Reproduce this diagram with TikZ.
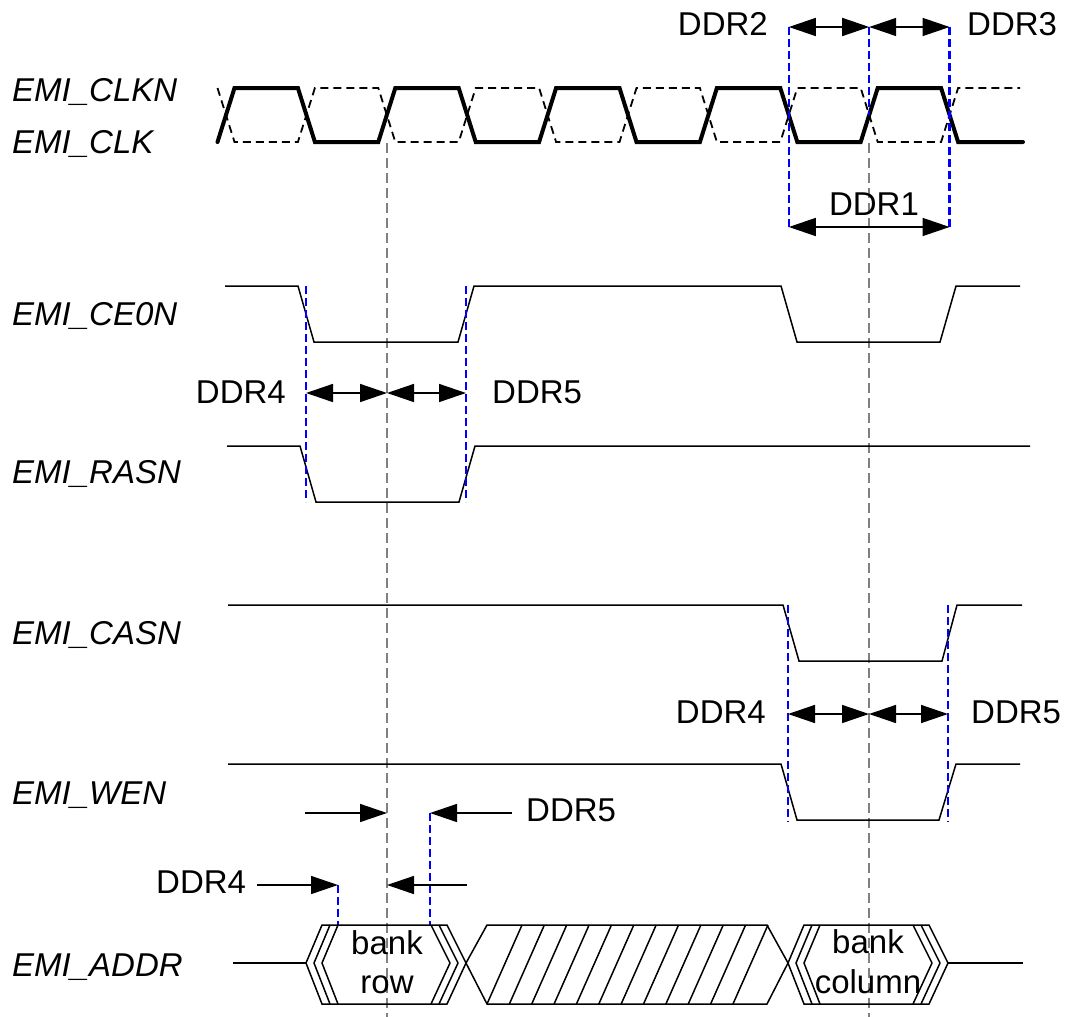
\documentclass[tikz,border=0pt]{standalone}
\usepackage{fontspec}
\setmainfont{Liberation Sans}
\usetikzlibrary{arrows.meta}
\begin{document}
\begin{tikzpicture}[x=1pt,y=-1pt,
  every node/.style={inner sep=0pt, font=\fontsize{33}{39}\selectfont},
  sig/.style={line width=1.5pt, line join=miter},
  clk/.style={line width=4pt, line join=miter, line cap=round},
  clkn/.style={line width=1.8pt, dash pattern=on 8pt off 5pt},
  blu/.style={blue, line width=2.4pt, dash pattern=on 8pt off 4pt},
  gry/.style={gray, line width=2.2pt, dash pattern=on 10pt off 5pt},
  dim/.style={line width=1.5pt, {Triangle[length=27pt,width=18pt]}-{Triangle[length=27pt,width=18pt]}},
  sarr/.style={line width=1.5pt, -{Triangle[length=27pt,width=18pt]}},
  lab/.style={anchor=base west, font=\fontsize{33}{39}\selectfont\itshape},
  bus/.style={line width=1.5pt, line join=miter},
]
\useasboundingbox (0,0) rectangle (1068,1017);

% reference (gray) lines
\coordinate (g1t) at (387,143); \coordinate (g1b) at (387,1017);
\coordinate (g2t) at (869.2,143); \coordinate (g2b) at (869.2,1017);
\draw[gry] (g1t) -- (g1b);
\draw[gry] (g2t) -- (g2b);

% labels
\node[lab] (lclkn) at (12,101) {EMI\_CLKN};
\node[lab] (lclk) at (12,153) {EMI\_CLK};
\node[lab] (lce) at (12,325) {EMI\_CE0N};
\node[lab] (lras) at (12,483) {EMI\_RASN};
\node[lab] (lcas) at (12,644) {EMI\_CASN};
\node[lab] (lwen) at (12,804) {EMI\_WEN};
\node[lab] (laddr) at (12,976) {EMI\_ADDR};

% clocks
\draw[clkn] (217.5,88) -- (234.5,142) -- (297.9,142) -- (314.9,88) -- (378.3,88) -- (395.3,142)
  -- (458.7,142) -- (475.7,88) -- (539.1,88) -- (556.1,142) -- (619.5,142) -- (636.5,88)
  -- (699.9,88) -- (716.9,142) -- (780.3,142) -- (797.3,88) -- (860.7,88) -- (877.7,142)
  -- (941.1,142) -- (958.1,88) -- (1020,88);
\draw[clk] (217.5,142) -- (234.5,88) -- (297.9,88) -- (314.9,142) -- (378.3,142) -- (395.3,88)
  -- (458.7,88) -- (475.7,142) -- (539.1,142) -- (556.1,88) -- (619.5,88) -- (636.5,142)
  -- (699.9,142) -- (716.9,88) -- (780.3,88) -- (797.3,142) -- (860.7,142) -- (877.7,88)
  -- (941.1,88) -- (958.1,142) -- (1023,142);

% control signals
\draw[sig] (225,286) -- (298,286) -- (314,342) -- (458,342) -- (474,286) -- (781,286)
  -- (797,342) -- (940,342) -- (956,286) -- (1020,286);
\draw[sig] (227,446) -- (300,446) -- (316,502) -- (459,502) -- (475,446) -- (1030,446);
\draw[sig] (228,605) -- (783,605) -- (799,661) -- (942,661) -- (957,605) -- (1022,605);
\draw[sig] (228,764) -- (781,764) -- (797,820) -- (939,820) -- (956,764) -- (1020,764);

% blue timing markers
\coordinate (bA1) at (788.8,27);  \coordinate (bA2) at (788.8,227);
\coordinate (bB1) at (869.2,27);  \coordinate (bB2) at (869.2,115);
\coordinate (bC1) at (949.6,27);  \coordinate (bC2) at (949.6,227);
\draw[blu] (bA1) -- (bA2);
\draw[blu] (bB1) -- (bB2);
\draw[blu] (bC1) -- (bC2);
\coordinate (bD1) at (306,286); \coordinate (bD2) at (306,502);
\coordinate (bE1) at (466,286); \coordinate (bE2) at (466,502);
\draw[blu] (bD1) -- (bD2);
\draw[blu] (bE1) -- (bE2);
\coordinate (bF1) at (788,605); \coordinate (bF2) at (788,822);
\coordinate (bG1) at (948,605); \coordinate (bG2) at (948,822);
\draw[blu] (bF1) -- (bF2);
\draw[blu] (bG1) -- (bG2);
\coordinate (bH1) at (338,885); \coordinate (bH2) at (338,925);
\coordinate (bI1) at (430,813); \coordinate (bI2) at (430,925);
\draw[blu] (bH1) -- (bH2);
\draw[blu] (bI1) -- (bI2);

% dimension arrows
\draw[dim] (bA1) -- (bB1);
\draw[dim] (bB1) -- (bC1);
\draw[dim] (bA2) -- (bC2);
\coordinate (mA) at (387,393);
\coordinate (mAl) at (306,393); \coordinate (mAr) at (466,393);
\draw[dim] (mAl) -- (mA);
\draw[dim] (mA) -- (mAr);
\coordinate (mB) at (869,714);
\coordinate (mBl) at (788,714); \coordinate (mBr) at (948,714);
\draw[dim] (mBl) -- (mB);
\draw[dim] (mB) -- (mBr);
\coordinate (s1a) at (305,813); \coordinate (s1b) at (387,813);
\coordinate (s2a) at (512,813);
\coordinate (s3a) at (257,885);
\coordinate (s4a) at (467,885); \coordinate (s4b) at (387,885);
\draw[sarr] (s1a) -- (s1b);
\draw[sarr] (s2a) -- (bI1);
\draw[sarr] (s3a) -- (bH1);
\draw[sarr] (s4a) -- (s4b);

% DDR labels
\node[anchor=base east] (d2) at (768,35) {DDR2};
\node[anchor=base west] (d3) at (967,35) {DDR3};
\node[anchor=base] (d1) at (874,215) {DDR1};
\node[anchor=base east] (d4a) at (286,403) {DDR4};
\node[anchor=base west] (d5a) at (492,403) {DDR5};
\node[anchor=base east] (d4b) at (766,723) {DDR4};
\node[anchor=base west] (d5b) at (971,723) {DDR5};
\node[anchor=base west] (d5c) at (526,821) {DDR5};
\node[anchor=base west] (d4c) at (156,893) {DDR4};

% address bus
\draw[sig] (233,963) -- (306,963);
\draw[bus] (306,963) -- (322,925) -- (447,925) -- (466,963) -- (447,1004) -- (322,1004) -- cycle;
\draw[bus] (330,925) -- (314,963) -- (330,1004);
\draw[bus] (338,925) -- (322,963) -- (338,1004);
\draw[bus] (431,925) -- (450,963) -- (431,1004);
\draw[bus] (439,925) -- (458,963) -- (439,1004);
\draw[bus] (466,963) -- (487,925) -- (767,925) -- (788,963) -- (767,1004) -- (487,1004) -- cycle;
\foreach \k in {0,...,11} {
  \draw[bus] ({487+22.36*\k},1004) -- ({522+22.36*\k},925);
}
\draw[bus] (788,963) -- (804,925) -- (929,925) -- (948,963) -- (929,1004) -- (804,1004) -- cycle;
\draw[bus] (812,925) -- (796,963) -- (812,1004);
\draw[bus] (820,925) -- (804,963) -- (820,1004);
\draw[bus] (913,925) -- (932,963) -- (913,1004);
\draw[bus] (921,925) -- (940,963) -- (921,1004);
\draw[sig] (948,963) -- (1023,963);

\node[anchor=base] (b1) at (387,954) {bank};
\node[anchor=base] (r1) at (387,993) {row};
\node[anchor=base] (b2) at (868,953) {bank};
\node[anchor=base] (c2) at (868,993) {column};
\end{tikzpicture}
\end{document}
